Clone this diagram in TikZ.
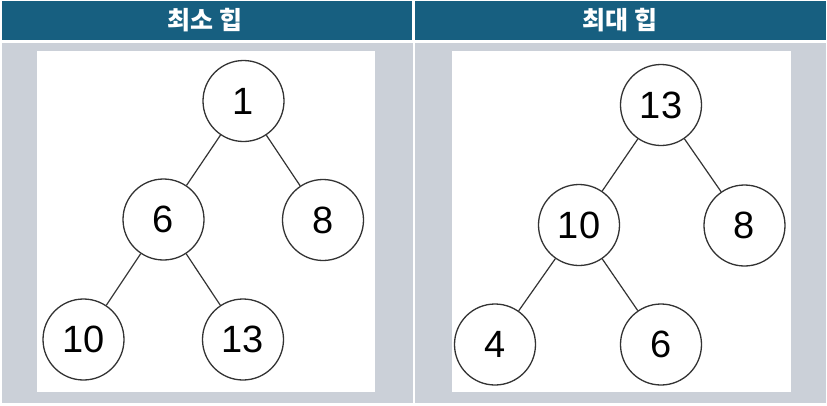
\documentclass[tikz,border=0pt]{standalone}
\usepackage{fontspec}
\setmainfont{Liberation Sans}
\newfontfamily\kor{Noto Sans CJK KR}
\definecolor{headblue}{HTML}{175F80}
\definecolor{panelgray}{HTML}{CBD0D8}
\definecolor{ringgray}{HTML}{333333}
\tikzset{
  heapnode/.style={circle, draw=ringgray, line width=1.3pt, minimum size=81pt,
    inner sep=0pt, font=\fontsize{38}{40}\selectfont},
  headtext/.style={text=white, font=\kor\bfseries\fontsize{25}{28}\selectfont},
  link/.style={draw=ringgray, line width=1.2pt}
}

\begin{document}
\begin{tikzpicture}[x=1pt, y=-1pt]
    \useasboundingbox (0,0) rectangle (827,405);
    % header bars and grey cells
    \fill[headblue] (2,1) rectangle (412,39.5);
    \fill[headblue] (415,1) rectangle (826,39.5);
    \fill[panelgray] (2,43) rectangle (413,402.5);
    \fill[panelgray] (415,43) rectangle (826,402.5);
    % white panels
    \fill[white] (37,51) rectangle (375,392);
    \fill[white] (452,51) rectangle (791,392);
    % titles
    \node[headtext] (tmin) at (205,20) {최소 힙};
    \node[headtext] (tmax) at (620,20) {최대 힙};
    % min heap
    \node[heapnode] (m1)  at (243.5,101) {1};
    \node[heapnode] (m6)  at (163.5,219.5) {6};
    \node[heapnode] (m8)  at (323,220) {8};
    \node[heapnode] (m10) at (83.5,339.5) {10};
    \node[heapnode] (m13) at (243,339.5) {13};
    \draw[link] (m1) -- (m6)
                (m1) -- (m8)
                (m6) -- (m10)
                (m6) -- (m13);
    % max heap
    \node[heapnode] (x13) at (661,105) {13};
    \node[heapnode] (x10) at (579,225) {10};
    \node[heapnode] (x8)  at (744.5,225.5) {8};
    \node[heapnode] (x4)  at (495,344.5) {4};
    \node[heapnode] (x6)  at (661,344.5) {6};
    \draw[link] (x13) -- (x10)
                (x13) -- (x8)
                (x10) -- (x4)
                (x10) -- (x6);
\end{tikzpicture}
\end{document}
